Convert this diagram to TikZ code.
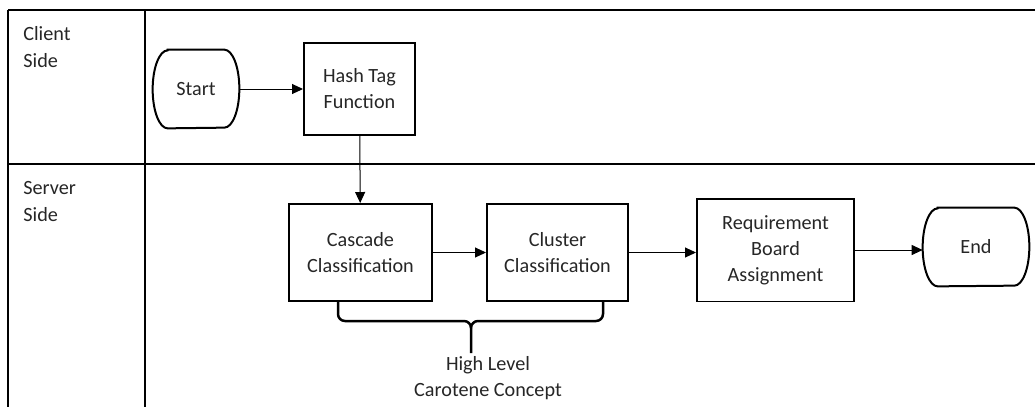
\documentclass[tikz,border=0pt]{standalone}
\usepackage{fontspec}
\setmainfont{Carlito}
\usetikzlibrary{arrows.meta}

\tikzstyle{lanenode}=[anchor=north west, align=left, inner sep=0, text=black!85]
\tikzstyle{boxnode}=[rectangle, draw, line width=0.04cm, align=center, inner sep=0, text=black!85]
\tikzstyle{termnode}=[rectangle, minimum height=1.56cm, inner sep=0, text=black!85]
\tikzstyle{laneline}=[line width=0.04cm]
\tikzstyle{flowline}=[line width=0.02cm, -{Triangle[length=0.22cm, width=0.2cm]}]
\tikzstyle{braceline}=[line width=0.05cm]
\newcommand{\drawterminal}[4]{
  \node[termnode, minimum width=#3] (#1) at (#2) {#4};
  \draw[laneline] ([xshift=0.3cm]#1.north west) -- ([xshift=-0.3cm]#1.north east)
    arc[start angle=90, end angle=-90, x radius=0.3cm, y radius=0.78cm]
    -- ([xshift=0.3cm]#1.south west)
    arc[start angle=270, end angle=90, x radius=0.3cm, y radius=0.78cm] -- cycle;
}

\begin{document}
\begin{tikzpicture}[x=0.02cm, y=0.02cm, font=\fontsize{11.5}{14.8}\selectfont]
  \useasboundingbox (0,0) rectangle (1035,-407);
  \draw[laneline] (8,-10) -- (1035,-10);
  \draw[laneline] (8,-164) -- (1035,-164);
  \draw[laneline] (8,-10) -- (8,-407);
  \draw[laneline] (145,-10) -- (145,-407);
  \node[lanenode, font=\fontsize{11.5}{15.6}\selectfont] (client) at (23,-26) {Client\\Side};
  \node[lanenode, font=\fontsize{11.5}{15.6}\selectfont] (server) at (23,-181) {Server\\Side};
  \drawterminal{start}{196,-89}{1.72cm}{Start}
  \node[boxnode, minimum width=2.22cm, minimum height=1.84cm] (hash) at (359.5,-89) {Hash Tag\\Function};
  \node[boxnode, minimum width=2.86cm, minimum height=1.94cm] (cascade) at (360.5,-252.5) {Cascade\\Classification};
  \node[boxnode, minimum width=2.82cm, minimum height=1.94cm] (cluster) at (557.5,-252.5) {Cluster\\Classification};
  \node[boxnode, minimum width=3.14cm, minimum height=2.06cm] (req) at (775.5,-250) {Requirement\\Board\\Assignment};
  \drawterminal{end}{976,-247}{2.12cm}{End}
  \draw[flowline] (start) -- (hash);
  \draw[flowline] (hash) -- (cascade);
  \draw[flowline] (cascade) -- (cluster);
  \draw[flowline] (cluster.east) -- (cluster.east -| req.west);
  \draw[flowline] (req.east) -- (req.east -| end.west);
  \draw[braceline] (338,-301) -- (338,-314) to[out=-90, in=180] (345,-321) -- (464,-321)
    to[out=0, in=90] (471,-328) -- (471,-353);
  \draw[braceline] (603,-301) -- (603,-314) to[out=-90, in=0] (596,-321) -- (478,-321)
    to[out=180, in=90] (471,-328);
  \node[align=center, inner sep=0, text=black!85] (hlc) at (488,-378) {High Level\\Carotene Concept};
\end{tikzpicture}
\end{document}
